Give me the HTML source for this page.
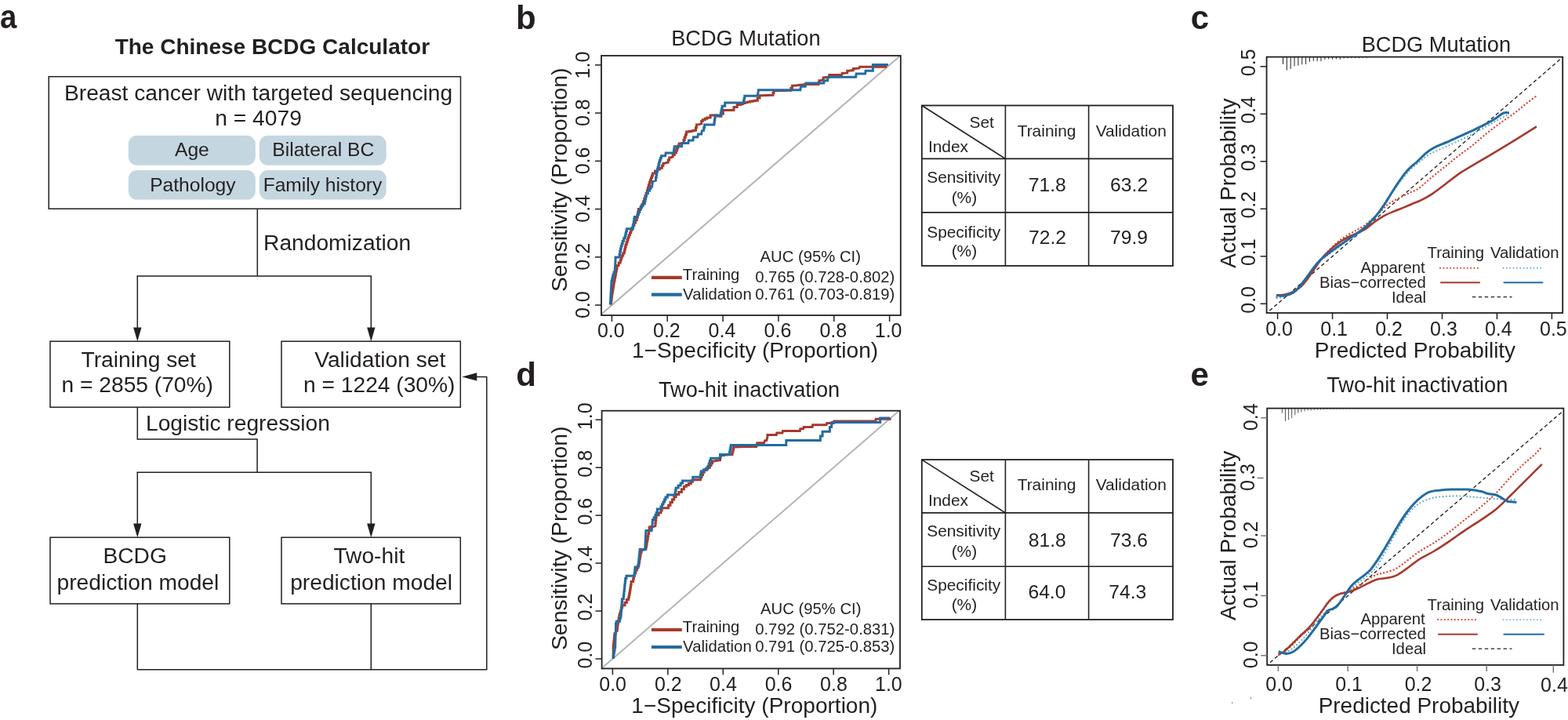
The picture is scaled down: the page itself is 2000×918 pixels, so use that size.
<!DOCTYPE html>
<html><head><meta charset="utf-8"><title>The Chinese BCDG Calculator</title>
<style>html,body{margin:0;padding:0;background:#fff;overflow:hidden;}svg{display:block;}text{font-family:"Liberation Sans", Arial, Helvetica, sans-serif;}</style>
</head><body>
<svg width="2000" height="918" viewBox="0 0 2000 918">
<rect width="2000" height="918" fill="#fff"/>
<text transform="translate(1.20,36.20) scale(0.915,1.0)" x="-1.26" y="0" font-size="42" font-weight="bold" fill="#231f20">a</text>
<text transform="translate(146.90,68.70) scale(1,1.0)" x="-0.28" y="0" font-size="28" font-weight="bold" fill="#231f20">The Chinese BCDG Calculator</text>
<rect x="62.20" y="97.70" width="525.30" height="168.50" rx="0" fill="none" stroke="#231f20" stroke-width="1.5"/>
<text transform="translate(84.20,127.80) scale(1,1.0)" x="-2.26" y="0" font-size="28.2" fill="#231f20">Breast cancer with targeted sequencing</text>
<text transform="translate(329.85,160.40) scale(1,1.0)" x="-55.55" y="0" font-size="28.2" fill="#231f20">n = 4079</text>
<rect x="163.80" y="172.70" width="162.00" height="38.00" rx="11" fill="#c4d6e0"/>
<rect x="330.80" y="172.70" width="161.90" height="38.00" rx="11" fill="#c4d6e0"/>
<rect x="163.80" y="217.00" width="162.00" height="37.60" rx="11" fill="#c4d6e0"/>
<rect x="330.80" y="217.00" width="161.90" height="37.60" rx="11" fill="#c4d6e0"/>
<text transform="translate(244.35,198.80) scale(1,1.0)" x="-21.34" y="0" font-size="24.6" fill="#231f20">Age</text>
<text transform="translate(412.80,198.80) scale(1,1.0)" x="-65.50" y="0" font-size="24.6" fill="#231f20">Bilateral BC</text>
<text transform="translate(246.90,243.80) scale(1,1.0)" x="-55.72" y="0" font-size="24.6" fill="#231f20">Pathology</text>
<text transform="translate(412.50,243.80) scale(1,1.0)" x="-76.88" y="0" font-size="24.6" fill="#231f20">Family history</text>
<line x1="328.30" y1="266.20" x2="328.30" y2="351.90" stroke="#231f20" stroke-width="1.5" stroke-linecap="butt"/>
<text transform="translate(338.30,319.30) scale(1,1.0)" x="-2.26" y="0" font-size="28.2" fill="#231f20">Randomization</text>
<line x1="175.30" y1="351.90" x2="473.30" y2="351.90" stroke="#231f20" stroke-width="1.5" stroke-linecap="square"/>
<line x1="175.30" y1="351.90" x2="175.30" y2="418.20" stroke="#231f20" stroke-width="1.5" stroke-linecap="butt"/>
<polygon points="170.10,417.60 180.50,417.60 175.30,435.20" fill="#231f20"/>
<line x1="473.30" y1="351.90" x2="473.30" y2="418.20" stroke="#231f20" stroke-width="1.5" stroke-linecap="butt"/>
<polygon points="468.10,417.60 478.50,417.60 473.30,435.20" fill="#231f20"/>
<rect x="64.00" y="435.20" width="228.80" height="84.00" rx="0" fill="none" stroke="#231f20" stroke-width="1.5"/>
<rect x="359.00" y="435.20" width="228.30" height="84.00" rx="0" fill="none" stroke="#231f20" stroke-width="1.5"/>
<text transform="translate(104.10,467.70) scale(1,1.0)" x="-0.56" y="0" font-size="28.2" fill="#231f20">Training set</text>
<text transform="translate(80.30,500.30) scale(1,1.0)" x="-1.83" y="0" font-size="28.2" fill="#231f20">n = 2855 (70%)</text>
<text transform="translate(401.30,467.70) scale(1,1.0)" x="-0.14" y="0" font-size="28.2" fill="#231f20">Validation set</text>
<text transform="translate(388.80,500.30) scale(1,1.0)" x="-1.83" y="0" font-size="28.2" fill="#231f20">n = 1224 (30%)</text>
<polyline points="175.30,519.20 175.30,559.90 328.10,559.90 328.10,602.20" fill="none" stroke="#231f20" stroke-width="1.5" stroke-linecap="butt" stroke-linejoin="miter"/>
<text transform="translate(188.20,548.50) scale(1,1.0)" x="-2.26" y="0" font-size="28.2" fill="#231f20">Logistic regression</text>
<line x1="175.30" y1="602.20" x2="473.30" y2="602.20" stroke="#231f20" stroke-width="1.5" stroke-linecap="square"/>
<line x1="175.30" y1="602.20" x2="175.30" y2="668.20" stroke="#231f20" stroke-width="1.5" stroke-linecap="butt"/>
<polygon points="170.10,667.60 180.50,667.60 175.30,685.20" fill="#231f20"/>
<line x1="473.30" y1="602.20" x2="473.30" y2="668.20" stroke="#231f20" stroke-width="1.5" stroke-linecap="butt"/>
<polygon points="468.10,667.60 478.50,667.60 473.30,685.20" fill="#231f20"/>
<rect x="64.00" y="685.20" width="228.80" height="84.60" rx="0" fill="none" stroke="#231f20" stroke-width="1.5"/>
<rect x="359.00" y="685.20" width="228.30" height="84.60" rx="0" fill="none" stroke="#231f20" stroke-width="1.5"/>
<text transform="translate(172.20,718.30) scale(1,1.0)" x="-40.82" y="0" font-size="28.2" fill="#231f20">BCDG</text>
<text transform="translate(74.30,751.90) scale(1,1.0)" x="-1.83" y="0" font-size="28.2" fill="#231f20">prediction model</text>
<text transform="translate(471.00,718.30) scale(1,1.0)" x="-45.61" y="0" font-size="28.2" fill="#231f20">Two-hit</text>
<text transform="translate(372.00,751.90) scale(1,1.0)" x="-1.83" y="0" font-size="28.2" fill="#231f20">prediction model</text>
<line x1="175.30" y1="769.80" x2="175.30" y2="853.80" stroke="#231f20" stroke-width="1.5" stroke-linecap="butt"/>
<line x1="473.30" y1="769.80" x2="473.30" y2="853.80" stroke="#231f20" stroke-width="1.5" stroke-linecap="butt"/>
<polyline points="175.30,853.80 620.80,853.80 620.80,480.40 608.00,480.40" fill="none" stroke="#231f20" stroke-width="1.5" stroke-linecap="butt" stroke-linejoin="round"/>
<polygon points="608.30,475.30 608.30,485.50 589.20,480.40" fill="#231f20"/>
<clipPath id="cb"><rect x="767" y="71" width="381.79999999999995" height="331"/></clipPath>
<g clip-path="url(#cb)">
<line x1="744.98" y1="419.61" x2="1170.02" y2="52.29" stroke="#b4b4b4" stroke-width="2.0" stroke-linecap="butt"/>
<polyline points="779.30,388.50 779.30,385.20 779.72,385.20 779.72,381.90 780.15,381.90 780.15,378.60 780.58,378.60 780.58,375.30 781.00,375.30 781.00,372.27 781.50,372.27 781.50,369.25 782.00,369.25 782.00,366.23 782.50,366.23 782.50,363.20 783.00,363.20 783.00,359.96 783.62,359.96 783.62,356.72 784.24,356.72 784.24,353.48 784.86,353.48 784.86,350.24 785.48,350.24 785.48,347.00 786.10,347.00 787.10,342.00 787.10,338.50 789.15,338.50 789.15,335.00 791.20,335.00 791.20,332.00 792.20,332.00 792.20,329.00 793.20,329.00 793.20,325.95 794.70,325.95 794.70,322.90 796.20,322.90 796.20,320.20 796.87,320.20 796.87,317.50 797.53,317.50 797.53,314.80 798.20,314.80 798.20,311.77 799.20,311.77 799.20,308.75 800.20,308.75 800.20,305.73 801.20,305.73 801.20,302.70 802.20,302.70 802.20,299.68 803.48,299.68 803.48,296.65 804.75,296.65 804.75,293.62 806.02,293.62 806.02,290.60 807.30,290.60 807.30,287.27 808.97,287.27 808.97,283.93 810.63,283.93 810.63,280.60 812.30,280.60 812.30,277.23 812.97,277.23 812.97,273.87 813.63,273.87 813.63,270.50 814.30,270.50 814.30,266.50 817.40,266.50 817.40,263.45 818.90,263.45 818.90,260.40 820.40,260.40 820.40,256.88 821.65,256.88 821.65,253.35 822.90,253.35 822.90,249.82 824.15,249.82 824.15,246.30 825.40,246.30 825.40,242.78 826.40,242.78 826.40,239.25 827.40,239.25 827.40,235.72 828.40,235.72 828.40,232.20 829.40,232.20 829.40,229.50 830.43,229.50 830.43,226.80 831.47,226.80 831.47,224.10 832.50,224.10 832.50,221.05 835.50,221.05 835.50,218.00 838.50,218.00 838.50,216.10 841.45,216.10 841.45,214.20 844.40,214.20 844.40,211.20 845.90,211.20 845.90,208.20 847.40,208.20 852.20,207.00 852.20,204.00 853.70,204.00 853.70,201.00 855.20,201.00 858.20,199.90 858.20,197.45 860.30,197.45 860.30,195.00 862.40,195.00 862.40,192.00 863.55,192.00 863.55,189.00 864.70,189.00 864.70,186.00 866.20,186.00 866.20,183.00 867.70,183.00 872.00,181.90 872.00,178.50 873.17,178.50 873.17,175.10 874.33,175.10 874.33,171.70 875.50,171.70 875.50,168.10 879.10,168.10 879.10,167.50 881.90,167.50 881.90,166.90 884.70,166.90 884.70,166.30 887.50,166.30 887.50,162.70 888.40,162.70 888.40,159.10 889.30,159.10 894.70,157.90 894.70,154.30 896.50,154.30 896.50,152.80 899.20,152.80 899.20,151.30 901.90,151.30 901.90,150.10 906.10,150.10 906.10,147.10 909.10,147.10 913.90,147.10 913.90,147.70 916.90,147.70 916.90,148.30 919.90,148.30 919.90,145.30 922.30,145.30 922.30,140.60 924.70,140.60 936.00,140.60 936.00,136.40 940.20,136.40 940.20,133.40 945.00,133.40 945.00,132.45 947.50,132.45 947.50,131.50 950.00,131.50 950.00,130.70 953.25,130.70 953.25,129.90 956.50,129.90 956.50,129.37 959.77,129.37 959.77,128.83 963.03,128.83 963.03,128.30 966.30,128.30 966.30,125.00 969.05,125.00 969.05,121.70 971.80,121.70 986.00,121.20 986.00,118.50 987.00,118.50 987.00,115.80 988.00,115.80 1008.80,115.20 1008.80,112.20 1010.40,112.20 1010.40,109.20 1012.00,109.20 1024.00,108.10 1026.00,107.60 1044.00,107.60 1044.00,105.15 1044.95,105.15 1044.95,102.70 1045.90,102.70 1049.70,102.10 1050.20,98.90 1057.30,98.30 1057.80,95.60 1073.60,95.60 1074.20,93.40 1080.70,92.90 1080.70,90.20 1082.90,90.20 1088.30,89.60 1088.30,87.40 1090.50,87.40 1096.00,86.90 1096.50,85.30 1129.70,85.30 1129.70,82.50 1133.00,82.50" fill="none" stroke="#a53a2e" stroke-width="3.0" stroke-linecap="butt" stroke-linejoin="miter"/>
<polyline points="778.50,388.50 778.50,385.47 778.67,385.47 778.67,382.43 778.83,382.43 778.83,379.40 779.00,379.40 779.00,376.37 779.17,376.37 779.17,373.33 779.33,373.33 779.33,370.30 779.50,370.30 779.50,367.27 779.67,367.27 779.67,364.23 779.83,364.23 779.83,361.20 780.00,361.20 780.00,358.50 780.67,358.50 780.67,355.80 781.33,355.80 781.33,353.10 782.00,353.10 782.00,350.05 783.05,350.05 783.05,347.00 784.10,347.00 785.10,331.00 785.10,328.00 787.10,328.00 790.10,328.00 790.10,324.30 790.80,324.30 790.80,320.60 791.50,320.60 791.50,316.90 792.20,316.90 792.20,313.85 793.20,313.85 793.20,310.80 794.20,310.80 794.20,307.30 795.70,307.30 795.70,303.80 797.20,303.80 797.20,300.77 797.95,300.77 797.95,297.75 798.70,297.75 798.70,294.73 799.45,294.73 799.45,291.70 800.20,291.70 807.30,291.70 807.30,288.68 807.80,288.68 807.80,285.65 808.30,285.65 808.30,282.62 808.80,282.62 808.80,279.60 809.30,279.60 809.30,276.50 813.30,276.50 813.30,273.48 814.57,273.48 814.57,270.45 815.85,270.45 815.85,267.42 817.12,267.42 817.12,264.40 818.40,264.40 818.40,261.90 820.40,261.90 820.40,259.40 822.40,259.40 822.40,256.37 823.07,256.37 823.07,253.33 823.73,253.33 823.73,250.30 824.40,250.30 824.40,246.80 826.45,246.80 826.45,243.30 828.50,243.30 828.50,240.75 830.00,240.75 830.00,238.20 831.50,238.20 832.50,231.20 836.50,230.20 836.50,226.47 837.13,226.47 837.13,222.73 837.77,222.73 837.77,219.00 838.40,219.00 838.40,216.00 839.15,216.00 839.15,213.00 839.90,213.00 839.90,210.00 840.65,210.00 840.65,207.00 841.40,207.00 841.40,204.23 842.40,204.23 842.40,201.47 843.40,201.47 843.40,198.70 844.40,198.70 848.60,198.70 849.20,195.00 859.40,195.00 859.40,192.23 859.80,192.23 859.80,189.47 860.20,189.47 860.20,186.70 860.60,186.70 869.50,186.70 870.10,182.50 877.90,182.50 878.50,178.90 883.90,178.90 884.50,174.70 889.90,174.70 890.50,171.10 894.70,171.10 895.30,166.90 897.70,166.30 897.70,162.70 898.60,162.70 898.60,159.10 899.50,159.10 910.90,159.10 910.90,156.10 911.35,156.10 911.35,153.10 911.80,153.10 911.80,150.10 912.25,150.10 912.25,147.10 912.70,147.10 919.30,147.10 919.30,144.33 919.90,144.33 919.90,141.57 920.50,141.57 920.50,138.80 921.10,138.80 921.10,135.20 924.70,135.20 924.70,131.00 929.40,131.00 948.60,131.00 948.60,128.10 949.20,128.10 949.20,125.20 949.80,125.20 949.80,122.30 950.40,122.30 966.30,122.30 967.40,114.70 1020.80,114.70 1021.40,110.30 1027.30,110.30 1027.90,106.00 1050.80,106.00 1051.30,102.70 1055.70,102.70 1056.20,98.30 1091.60,98.30 1092.20,94.00 1103.60,94.00 1104.10,90.20 1113.40,90.20 1113.40,82.50 1133.00,82.50" fill="none" stroke="#246ba0" stroke-width="3.0" stroke-linecap="butt" stroke-linejoin="miter"/>
</g>
<rect x="767.00" y="71.00" width="381.80" height="331.00" rx="0" fill="none" stroke="#231f20" stroke-width="1.8"/>
<line x1="780.40" y1="402.00" x2="780.40" y2="410.00" stroke="#231f20" stroke-width="1.5" stroke-linecap="butt"/>
<text transform="translate(779.40,429.70) scale(1,1.0)" x="-17.44" y="0" font-size="25" fill="#231f20">0.0</text>
<line x1="759.00" y1="389.00" x2="767.00" y2="389.00" stroke="#231f20" stroke-width="1.5" stroke-linecap="butt"/>
<text transform="translate(751.70,388.60) rotate(-90) scale(1,1.0)" x="-17.44" y="0" font-size="25" fill="#231f20">0.0</text>
<line x1="851.24" y1="402.00" x2="851.24" y2="410.00" stroke="#231f20" stroke-width="1.5" stroke-linecap="butt"/>
<text transform="translate(850.24,429.70) scale(1,1.0)" x="-17.25" y="0" font-size="25" fill="#231f20">0.2</text>
<line x1="759.00" y1="327.78" x2="767.00" y2="327.78" stroke="#231f20" stroke-width="1.5" stroke-linecap="butt"/>
<text transform="translate(751.70,327.38) rotate(-90) scale(1,1.0)" x="-17.25" y="0" font-size="25" fill="#231f20">0.2</text>
<line x1="922.08" y1="402.00" x2="922.08" y2="410.00" stroke="#231f20" stroke-width="1.5" stroke-linecap="butt"/>
<text transform="translate(921.08,429.70) scale(1,1.0)" x="-17.50" y="0" font-size="25" fill="#231f20">0.4</text>
<line x1="759.00" y1="266.56" x2="767.00" y2="266.56" stroke="#231f20" stroke-width="1.5" stroke-linecap="butt"/>
<text transform="translate(751.70,266.16) rotate(-90) scale(1,1.0)" x="-17.50" y="0" font-size="25" fill="#231f20">0.4</text>
<line x1="992.92" y1="402.00" x2="992.92" y2="410.00" stroke="#231f20" stroke-width="1.5" stroke-linecap="butt"/>
<text transform="translate(991.92,429.70) scale(1,1.0)" x="-17.38" y="0" font-size="25" fill="#231f20">0.6</text>
<line x1="759.00" y1="205.34" x2="767.00" y2="205.34" stroke="#231f20" stroke-width="1.5" stroke-linecap="butt"/>
<text transform="translate(751.70,204.94) rotate(-90) scale(1,1.0)" x="-17.38" y="0" font-size="25" fill="#231f20">0.6</text>
<line x1="1063.76" y1="402.00" x2="1063.76" y2="410.00" stroke="#231f20" stroke-width="1.5" stroke-linecap="butt"/>
<text transform="translate(1062.76,429.70) scale(1,1.0)" x="-17.38" y="0" font-size="25" fill="#231f20">0.8</text>
<line x1="759.00" y1="144.12" x2="767.00" y2="144.12" stroke="#231f20" stroke-width="1.5" stroke-linecap="butt"/>
<text transform="translate(751.70,143.72) rotate(-90) scale(1,1.0)" x="-17.38" y="0" font-size="25" fill="#231f20">0.8</text>
<line x1="1134.60" y1="402.00" x2="1134.60" y2="410.00" stroke="#231f20" stroke-width="1.5" stroke-linecap="butt"/>
<text transform="translate(1133.60,429.70) scale(1,1.0)" x="-17.88" y="0" font-size="25" fill="#231f20">1.0</text>
<line x1="759.00" y1="82.90" x2="767.00" y2="82.90" stroke="#231f20" stroke-width="1.5" stroke-linecap="butt"/>
<text transform="translate(751.70,82.50) rotate(-90) scale(1,1.0)" x="-17.88" y="0" font-size="25" fill="#231f20">1.0</text>
<text transform="translate(951.60,58.00) scale(1,1.0)" x="-95.40" y="0" font-size="27.2" fill="#231f20">BCDG Mutation</text>
<text transform="translate(808.10,455.90) scale(1,1.0)" x="-2.10" y="0" font-size="28.05" fill="#231f20">1−Specificity (Proportion)</text>
<text transform="translate(722.90,229.50) rotate(-90) scale(1,1.0)" x="-142.57" y="0" font-size="28.4" fill="#231f20">Sensitivity (Proportion)</text>
<text transform="translate(969.50,333.80) scale(1,1.0)" x="-0.00" y="0" font-size="20.3" fill="#231f20">AUC (95% CI)</text>
<line x1="831.00" y1="353.90" x2="869.80" y2="353.90" stroke="#a53a2e" stroke-width="4.2" stroke-linecap="butt"/>
<line x1="831.00" y1="375.70" x2="869.80" y2="375.70" stroke="#246ba0" stroke-width="4.2" stroke-linecap="butt"/>
<text transform="translate(871.20,356.60) scale(1,1.0)" x="-0.41" y="0" font-size="20.3" fill="#231f20">Training</text>
<text transform="translate(871.20,382.20) scale(1,1.0)" x="-0.10" y="0" font-size="20.3" fill="#231f20">Validation</text>
<text transform="translate(964.00,359.60) scale(1,1.0)" x="-0.81" y="0" font-size="20.3" fill="#231f20">0.765 (0.728-0.802)</text>
<text transform="translate(964.00,382.40) scale(1,1.0)" x="-0.81" y="0" font-size="20.3" fill="#231f20">0.761 (0.703-0.819)</text>
<text transform="translate(660.70,36.60) scale(1,1.0)" x="-2.73" y="0" font-size="42" font-weight="bold" fill="#231f20">b</text>
<clipPath id="cd"><rect x="767.6" y="523.7" width="380.4" height="328.69999999999993"/></clipPath>
<g clip-path="url(#cd)">
<line x1="746.18" y1="870.48" x2="1168.82" y2="504.72" stroke="#b4b4b4" stroke-width="2.0" stroke-linecap="butt"/>
<polyline points="782.20,840.00 782.20,827.30 782.20,824.04 782.54,824.04 782.54,820.78 782.88,820.78 782.88,817.52 783.22,817.52 783.22,814.26 783.56,814.26 783.56,811.00 783.90,811.00 783.90,807.75 785.50,807.75 785.50,804.50 787.10,804.50 788.00,798.00 788.00,794.73 788.60,794.73 788.60,791.45 789.20,791.45 789.20,788.17 789.80,788.17 789.80,784.90 790.40,784.90 790.40,782.45 791.20,782.45 791.20,780.00 792.00,780.00 792.00,777.27 792.83,777.27 792.83,774.53 793.67,774.53 793.67,771.80 794.50,771.80 797.00,771.80 797.00,768.15 799.40,768.15 799.40,764.50 801.80,764.50 801.80,761.50 802.37,761.50 802.37,758.50 802.93,758.50 802.93,755.50 803.50,755.50 803.50,752.23 804.03,752.23 804.03,748.97 804.57,748.97 804.57,745.70 805.10,745.70 805.10,741.60 807.60,741.60 807.60,737.95 808.40,737.95 808.40,734.30 809.20,734.30 809.20,730.65 810.80,730.65 810.80,727.00 812.40,727.00 812.40,724.10 813.65,724.10 813.65,721.20 814.90,721.20 814.90,718.26 815.38,718.26 815.38,715.32 815.86,715.32 815.86,712.38 816.34,712.38 816.34,709.44 816.82,709.44 816.82,706.50 817.30,706.50 817.30,704.05 818.15,704.05 818.15,701.60 819.00,701.60 823.90,700.50 823.90,697.20 824.50,697.20 824.50,693.90 825.10,693.90 825.10,690.60 825.70,690.60 825.70,687.30 826.30,687.30 826.30,683.72 826.90,683.72 826.90,680.15 827.50,680.15 827.50,676.58 828.10,676.58 828.10,673.00 828.70,673.00 828.70,671.80 832.30,671.80 835.90,670.60 835.90,667.00 836.30,667.00 836.30,663.40 836.70,663.40 836.70,659.80 837.10,659.80 837.10,656.80 840.05,656.80 840.05,653.80 843.00,653.80 843.00,650.80 844.20,650.80 844.20,647.80 845.40,647.80 852.60,647.80 852.60,644.20 855.00,644.20 855.00,640.60 857.40,640.60 857.40,637.00 859.80,637.00 859.80,633.40 862.20,633.40 862.20,630.40 865.80,630.40 865.80,627.40 869.40,627.40 869.40,623.80 872.40,623.80 872.40,620.20 875.40,620.20 875.40,618.40 878.40,618.40 878.40,616.60 881.40,616.60 881.40,614.20 883.20,614.20 883.20,611.80 885.00,611.80 893.40,611.80 893.40,608.63 895.00,608.63 895.00,605.47 896.60,605.47 896.60,602.30 898.20,602.30 898.20,599.30 901.80,599.30 901.80,596.30 905.40,596.30 905.40,593.50 906.97,593.50 906.97,590.70 908.53,590.70 908.53,587.90 910.10,587.90 918.50,586.70 918.50,583.70 919.10,583.70 919.10,580.70 919.70,580.70 919.70,580.40 923.30,580.40 923.30,580.10 926.90,580.10 926.90,579.80 930.50,579.80 930.50,579.50 934.10,579.50 934.10,576.30 934.90,576.30 934.90,573.10 935.70,573.10 935.70,569.90 936.50,569.90 950.00,569.60 964.70,569.60 965.80,564.70 974.50,564.70 975.60,561.90 977.80,561.40 978.90,557.00 978.90,554.60 981.00,554.60 990.30,554.60 990.80,552.10 997.90,552.10 998.50,549.40 1020.30,549.40 1020.80,546.70 1024.60,546.70 1025.20,544.50 1036.10,544.50 1036.60,541.80 1054.00,541.80 1054.60,539.60 1063.30,539.60 1063.80,536.90 1116.70,536.90 1117.20,534.20 1135.20,534.20 1135.20,533.00" fill="none" stroke="#a53a2e" stroke-width="3.0" stroke-linecap="butt" stroke-linejoin="miter"/>
<polyline points="782.20,840.00 782.20,836.42 782.83,836.42 782.83,832.85 783.45,832.85 783.45,829.28 784.08,829.28 784.08,825.70 784.70,825.70 785.50,798.00 785.50,795.10 786.30,795.10 786.30,792.20 787.10,792.20 790.40,792.20 790.40,789.35 791.20,789.35 791.20,786.50 792.00,786.50 792.00,783.24 792.24,783.24 792.24,779.99 792.49,779.99 792.49,776.73 792.73,776.73 792.73,773.47 792.97,773.47 792.97,770.21 793.21,770.21 793.21,766.96 793.46,766.96 793.46,763.70 793.70,763.70 795.30,763.70 795.30,760.31 795.66,760.31 795.66,756.93 796.01,756.93 796.01,753.54 796.37,753.54 796.37,750.16 796.73,750.16 796.73,746.77 797.09,746.77 797.09,743.39 797.44,743.39 797.44,740.00 797.80,740.00 797.80,737.15 799.00,737.15 799.00,734.30 800.20,734.30 809.20,734.30 810.00,722.90 814.10,722.90 814.10,719.70 814.44,719.70 814.44,716.50 814.79,716.50 814.79,713.30 815.13,713.30 815.13,710.10 815.47,710.10 815.47,706.90 815.81,706.90 815.81,703.70 816.16,703.70 816.16,700.50 816.50,700.50 822.70,700.50 823.90,676.50 831.10,676.50 832.30,665.80 832.30,662.80 834.10,662.80 834.10,659.80 835.90,659.80 835.90,656.80 837.10,656.80 837.10,653.80 838.30,653.80 838.30,649.00 843.00,649.00 843.00,646.00 844.50,646.00 844.50,643.00 846.00,643.00 846.00,640.00 847.50,640.00 847.50,637.00 849.00,637.00 849.00,634.00 851.40,634.00 851.40,631.00 853.80,631.00 861.00,631.00 861.00,628.00 861.60,628.00 861.60,625.00 862.20,625.00 862.20,622.00 865.20,622.00 865.20,619.00 868.20,619.00 868.20,616.00 870.60,616.00 870.60,613.00 873.00,613.00 883.80,613.00 883.80,608.30 885.00,608.30 893.40,608.30 893.40,605.30 894.00,605.30 894.00,602.30 894.60,602.30 894.60,600.70 897.40,600.70 897.40,599.10 900.20,599.10 900.20,597.50 903.00,597.50 903.00,594.20 904.17,594.20 904.17,590.90 905.35,590.90 905.35,587.60 906.53,587.60 906.53,584.30 907.70,584.30 918.50,584.30 918.50,579.50 919.70,579.50 930.50,579.50 930.50,576.50 931.10,576.50 931.10,573.50 931.70,573.50 931.70,570.50 932.30,570.50 932.30,567.50 932.90,567.50 1002.80,567.40 1002.80,561.40 1046.40,561.40 1046.40,556.00 1049.10,556.00 1049.10,550.30 1058.40,550.30 1058.40,544.50 1060.60,544.50 1061.10,538.50 1122.70,538.50 1122.70,532.90 1135.20,532.90" fill="none" stroke="#246ba0" stroke-width="3.0" stroke-linecap="butt" stroke-linejoin="miter"/>
</g>
<rect x="767.60" y="523.70" width="380.40" height="328.70" rx="0" fill="none" stroke="#231f20" stroke-width="1.8"/>
<line x1="781.40" y1="852.40" x2="781.40" y2="860.40" stroke="#231f20" stroke-width="1.5" stroke-linecap="butt"/>
<text transform="translate(781.70,880.50) scale(1,1.0)" x="-17.44" y="0" font-size="25" fill="#231f20">0.0</text>
<line x1="759.60" y1="840.00" x2="767.60" y2="840.00" stroke="#231f20" stroke-width="1.5" stroke-linecap="butt"/>
<text transform="translate(754.60,835.10) rotate(-90) scale(1,1.0)" x="-17.44" y="0" font-size="25" fill="#231f20">0.0</text>
<line x1="851.84" y1="852.40" x2="851.84" y2="860.40" stroke="#231f20" stroke-width="1.5" stroke-linecap="butt"/>
<text transform="translate(852.14,880.50) scale(1,1.0)" x="-17.25" y="0" font-size="25" fill="#231f20">0.2</text>
<line x1="759.60" y1="779.04" x2="767.60" y2="779.04" stroke="#231f20" stroke-width="1.5" stroke-linecap="butt"/>
<text transform="translate(754.60,774.14) rotate(-90) scale(1,1.0)" x="-17.25" y="0" font-size="25" fill="#231f20">0.2</text>
<line x1="922.28" y1="852.40" x2="922.28" y2="860.40" stroke="#231f20" stroke-width="1.5" stroke-linecap="butt"/>
<text transform="translate(922.58,880.50) scale(1,1.0)" x="-17.50" y="0" font-size="25" fill="#231f20">0.4</text>
<line x1="759.60" y1="718.08" x2="767.60" y2="718.08" stroke="#231f20" stroke-width="1.5" stroke-linecap="butt"/>
<text transform="translate(754.60,713.18) rotate(-90) scale(1,1.0)" x="-17.50" y="0" font-size="25" fill="#231f20">0.4</text>
<line x1="992.72" y1="852.40" x2="992.72" y2="860.40" stroke="#231f20" stroke-width="1.5" stroke-linecap="butt"/>
<text transform="translate(993.02,880.50) scale(1,1.0)" x="-17.38" y="0" font-size="25" fill="#231f20">0.6</text>
<line x1="759.60" y1="657.12" x2="767.60" y2="657.12" stroke="#231f20" stroke-width="1.5" stroke-linecap="butt"/>
<text transform="translate(754.60,652.22) rotate(-90) scale(1,1.0)" x="-17.38" y="0" font-size="25" fill="#231f20">0.6</text>
<line x1="1063.16" y1="852.40" x2="1063.16" y2="860.40" stroke="#231f20" stroke-width="1.5" stroke-linecap="butt"/>
<text transform="translate(1063.46,880.50) scale(1,1.0)" x="-17.38" y="0" font-size="25" fill="#231f20">0.8</text>
<line x1="759.60" y1="596.16" x2="767.60" y2="596.16" stroke="#231f20" stroke-width="1.5" stroke-linecap="butt"/>
<text transform="translate(754.60,591.26) rotate(-90) scale(1,1.0)" x="-17.38" y="0" font-size="25" fill="#231f20">0.8</text>
<line x1="1133.60" y1="852.40" x2="1133.60" y2="860.40" stroke="#231f20" stroke-width="1.5" stroke-linecap="butt"/>
<text transform="translate(1133.90,880.50) scale(1,1.0)" x="-17.88" y="0" font-size="25" fill="#231f20">1.0</text>
<line x1="759.60" y1="535.20" x2="767.60" y2="535.20" stroke="#231f20" stroke-width="1.5" stroke-linecap="butt"/>
<text transform="translate(754.60,530.30) rotate(-90) scale(1,1.0)" x="-17.88" y="0" font-size="25" fill="#231f20">1.0</text>
<text transform="translate(955.00,506.20) scale(1,1.0)" x="-115.06" y="0" font-size="27.2" fill="#231f20">Two-hit inactivation</text>
<text transform="translate(807.40,908.80) scale(1,1.0)" x="-2.10" y="0" font-size="28.05" fill="#231f20">1−Specificity (Proportion)</text>
<text transform="translate(722.90,686.50) rotate(-90) scale(1,1.0)" x="-142.57" y="0" font-size="28.4" fill="#231f20">Sensitivity (Proportion)</text>
<text transform="translate(970.00,783.00) scale(1,1.0)" x="-0.00" y="0" font-size="20.3" fill="#231f20">AUC (95% CI)</text>
<line x1="831.00" y1="803.00" x2="869.80" y2="803.00" stroke="#a53a2e" stroke-width="4.2" stroke-linecap="butt"/>
<line x1="831.00" y1="825.00" x2="869.80" y2="825.00" stroke="#246ba0" stroke-width="4.2" stroke-linecap="butt"/>
<text transform="translate(871.20,806.00) scale(1,1.0)" x="-0.41" y="0" font-size="20.3" fill="#231f20">Training</text>
<text transform="translate(871.20,831.00) scale(1,1.0)" x="-0.10" y="0" font-size="20.3" fill="#231f20">Validation</text>
<text transform="translate(964.00,809.00) scale(1,1.0)" x="-0.81" y="0" font-size="20.3" fill="#231f20">0.792 (0.752-0.831)</text>
<text transform="translate(964.00,831.00) scale(1,1.0)" x="-0.81" y="0" font-size="20.3" fill="#231f20">0.791 (0.725-0.853)</text>
<text transform="translate(660.00,491.50) scale(1,1.0)" x="-1.68" y="0" font-size="42" font-weight="bold" fill="#231f20">d</text>
<rect x="1175.80" y="134.50" width="320.20" height="204.40" rx="0" fill="none" stroke="#231f20" stroke-width="1.8"/>
<line x1="1282.40" y1="134.50" x2="1282.40" y2="338.90" stroke="#231f20" stroke-width="1.6" stroke-linecap="butt"/>
<line x1="1388.60" y1="134.50" x2="1388.60" y2="338.90" stroke="#231f20" stroke-width="1.6" stroke-linecap="butt"/>
<line x1="1175.80" y1="202.40" x2="1496.00" y2="202.40" stroke="#231f20" stroke-width="1.6" stroke-linecap="butt"/>
<line x1="1175.80" y1="270.90" x2="1496.00" y2="270.90" stroke="#231f20" stroke-width="1.6" stroke-linecap="butt"/>
<line x1="1175.80" y1="134.50" x2="1282.40" y2="202.40" stroke="#231f20" stroke-width="1.6" stroke-linecap="butt"/>
<text transform="translate(1237.40,162.60) scale(1,1.0)" x="-0.94" y="0" font-size="20.9" fill="#231f20">Set</text>
<text transform="translate(1185.80,194.30) scale(1,1.0)" x="-1.88" y="0" font-size="20.9" fill="#231f20">Index</text>
<text transform="translate(1334.55,173.70) scale(1,1.0)" x="-36.89" y="0" font-size="20.9" fill="#231f20">Training</text>
<text transform="translate(1442.10,173.70) scale(1,1.0)" x="-44.46" y="0" font-size="20.9" fill="#231f20">Validation</text>
<text transform="translate(1229.70,232.80) scale(1,1.0)" x="-47.50" y="0" font-size="20.9" fill="#231f20">Sensitivity</text>
<text transform="translate(1229.85,258.70) scale(1,1.0)" x="-16.20" y="0" font-size="20.9" fill="#231f20">(%)</text>
<text transform="translate(1229.70,302.50) scale(1,1.0)" x="-47.50" y="0" font-size="20.9" fill="#231f20">Specificity</text>
<text transform="translate(1229.85,327.30) scale(1,1.0)" x="-16.20" y="0" font-size="20.9" fill="#231f20">(%)</text>
<text transform="translate(1335.90,243.90) scale(1,1.0)" x="-24.14" y="0" font-size="24.7" fill="#231f20">71.8</text>
<text transform="translate(1440.10,243.90) scale(1,1.0)" x="-24.02" y="0" font-size="24.7" fill="#231f20">63.2</text>
<text transform="translate(1336.00,311.00) scale(1,1.0)" x="-24.02" y="0" font-size="24.7" fill="#231f20">72.2</text>
<text transform="translate(1440.10,311.00) scale(1,1.0)" x="-24.08" y="0" font-size="24.7" fill="#231f20">79.9</text>
<rect x="1175.80" y="586.10" width="320.20" height="203.90" rx="0" fill="none" stroke="#231f20" stroke-width="1.8"/>
<line x1="1282.40" y1="586.10" x2="1282.40" y2="790.00" stroke="#231f20" stroke-width="1.6" stroke-linecap="butt"/>
<line x1="1388.60" y1="586.10" x2="1388.60" y2="790.00" stroke="#231f20" stroke-width="1.6" stroke-linecap="butt"/>
<line x1="1175.80" y1="653.90" x2="1496.00" y2="653.90" stroke="#231f20" stroke-width="1.6" stroke-linecap="butt"/>
<line x1="1175.80" y1="722.20" x2="1496.00" y2="722.20" stroke="#231f20" stroke-width="1.6" stroke-linecap="butt"/>
<line x1="1175.80" y1="586.10" x2="1282.40" y2="653.90" stroke="#231f20" stroke-width="1.6" stroke-linecap="butt"/>
<text transform="translate(1237.40,613.60) scale(1,1.0)" x="-0.94" y="0" font-size="20.9" fill="#231f20">Set</text>
<text transform="translate(1185.80,644.90) scale(1,1.0)" x="-1.88" y="0" font-size="20.9" fill="#231f20">Index</text>
<text transform="translate(1334.55,625.00) scale(1,1.0)" x="-36.89" y="0" font-size="20.9" fill="#231f20">Training</text>
<text transform="translate(1442.10,625.00) scale(1,1.0)" x="-44.46" y="0" font-size="20.9" fill="#231f20">Validation</text>
<text transform="translate(1229.70,683.80) scale(1,1.0)" x="-47.50" y="0" font-size="20.9" fill="#231f20">Sensitivity</text>
<text transform="translate(1229.85,709.70) scale(1,1.0)" x="-16.20" y="0" font-size="20.9" fill="#231f20">(%)</text>
<text transform="translate(1229.70,753.10) scale(1,1.0)" x="-47.50" y="0" font-size="20.9" fill="#231f20">Specificity</text>
<text transform="translate(1229.85,778.30) scale(1,1.0)" x="-16.20" y="0" font-size="20.9" fill="#231f20">(%)</text>
<text transform="translate(1335.80,696.60) scale(1,1.0)" x="-24.08" y="0" font-size="24.7" fill="#231f20">81.8</text>
<text transform="translate(1440.10,696.60) scale(1,1.0)" x="-24.14" y="0" font-size="24.7" fill="#231f20">73.6</text>
<text transform="translate(1335.60,763.40) scale(1,1.0)" x="-24.21" y="0" font-size="24.7" fill="#231f20">64.0</text>
<text transform="translate(1438.30,763.40) scale(1,1.0)" x="-24.14" y="0" font-size="24.7" fill="#231f20">74.3</text>
<clipPath id="cc"><rect x="1615.6" y="72.6" width="377.60000000000014" height="326.4"/></clipPath>
<g clip-path="url(#cc)">
<line x1="1559.64" y1="447.80" x2="2189.28" y2="-96.70" stroke="#231f20" stroke-width="1.35" stroke-linecap="round" stroke-dasharray="3.5,4.45"/>
<path d="M1628.50,379.00 C1630.25,378.58 1635.68,377.50 1639.00,376.50 C1642.32,375.50 1644.98,374.83 1648.40,373.00 C1651.82,371.17 1656.33,368.33 1659.50,365.50 C1662.67,362.67 1664.77,359.42 1667.40,356.00 C1670.03,352.58 1672.13,349.50 1675.30,345.00 C1678.47,340.50 1682.98,333.42 1686.40,329.00 C1689.82,324.58 1692.23,322.13 1695.80,318.50 C1699.37,314.87 1703.83,310.40 1707.80,307.20 C1711.77,304.00 1715.88,301.58 1719.60,299.30 C1723.32,297.02 1726.83,295.35 1730.10,293.50 C1733.37,291.65 1735.93,290.50 1739.20,288.20 C1742.47,285.90 1746.22,282.63 1749.70,279.70 C1753.18,276.77 1756.83,273.65 1760.10,270.60 C1763.37,267.55 1766.25,263.90 1769.30,261.40 C1772.35,258.90 1775.13,257.45 1778.40,255.60 C1781.67,253.75 1785.42,252.05 1788.90,250.30 C1792.38,248.55 1795.78,246.85 1799.30,245.10 C1802.82,243.35 1805.32,243.15 1810.00,239.80 C1814.68,236.45 1821.58,229.78 1827.40,225.00 C1833.22,220.22 1839.08,215.75 1844.90,211.10 C1850.72,206.45 1856.50,201.60 1862.30,197.10 C1868.10,192.60 1873.90,188.73 1879.70,184.10 C1885.50,179.47 1891.28,173.95 1897.10,169.30 C1902.92,164.65 1908.78,160.42 1914.60,156.20 C1920.42,151.98 1926.77,147.92 1932.00,144.00 C1937.23,140.08 1941.35,136.33 1946.00,132.70 C1950.65,129.07 1957.58,123.95 1959.90,122.20" fill="none" stroke="#dc4530" stroke-width="2.3" stroke-linecap="round" stroke-linejoin="round" stroke-dasharray="0.1,4.25"/>
<path d="M1628.70,380.40 C1629.88,380.08 1633.30,379.18 1635.80,378.50 C1638.30,377.82 1641.07,377.30 1643.70,376.30 C1646.33,375.30 1648.97,374.55 1651.60,372.50 C1654.23,370.45 1656.87,367.08 1659.50,364.00 C1662.13,360.92 1664.77,357.50 1667.40,354.00 C1670.03,350.50 1672.67,346.42 1675.30,343.00 C1677.93,339.58 1680.57,336.17 1683.20,333.50 C1685.83,330.83 1688.30,329.17 1691.10,327.00 C1693.90,324.83 1696.33,323.17 1700.00,320.50 C1703.67,317.83 1708.75,314.08 1713.10,311.00 C1717.45,307.92 1721.75,305.08 1726.10,302.00 C1730.45,298.92 1734.83,296.17 1739.20,292.50 C1743.57,288.83 1748.38,284.75 1752.30,280.00 C1756.22,275.25 1759.65,268.62 1762.70,264.00 C1765.75,259.38 1767.98,256.00 1770.60,252.30 C1773.22,248.60 1776.00,245.07 1778.40,241.80 C1780.80,238.53 1782.82,235.53 1785.00,232.70 C1787.18,229.87 1789.33,227.42 1791.50,224.80 C1793.67,222.18 1795.82,219.28 1798.00,217.00 C1800.18,214.72 1802.20,213.07 1804.60,211.10 C1807.00,209.13 1810.05,207.08 1812.40,205.20 C1814.75,203.32 1816.20,201.58 1818.70,199.80 C1821.20,198.02 1823.03,196.68 1827.40,194.50 C1831.77,192.32 1839.08,189.32 1844.90,186.70 C1850.72,184.08 1856.50,181.57 1862.30,178.80 C1868.10,176.03 1873.90,173.15 1879.70,170.10 C1885.50,167.05 1891.87,163.40 1897.10,160.50 C1902.33,157.60 1906.58,155.17 1911.10,152.70 C1915.62,150.23 1922.02,146.87 1924.20,145.70" fill="none" stroke="#62b6c4" stroke-width="2.2" stroke-linecap="round" stroke-linejoin="round" stroke-dasharray="0.1,4.25"/>
<path d="M1627.90,376.40 C1629.75,376.27 1635.58,376.25 1639.00,375.60 C1642.42,374.95 1644.98,374.22 1648.40,372.50 C1651.82,370.78 1656.33,368.07 1659.50,365.30 C1662.67,362.53 1664.77,359.32 1667.40,355.90 C1670.03,352.48 1672.13,349.28 1675.30,344.80 C1678.47,340.32 1682.98,333.22 1686.40,329.00 C1689.82,324.78 1693.53,321.75 1695.80,319.50 C1698.07,317.25 1697.12,317.77 1700.00,315.50 C1702.88,313.23 1708.75,308.60 1713.10,305.90 C1717.45,303.20 1721.75,301.37 1726.10,299.30 C1730.45,297.23 1734.83,296.10 1739.20,293.50 C1743.57,290.90 1747.93,286.75 1752.30,283.70 C1756.67,280.65 1761.05,277.60 1765.40,275.20 C1769.75,272.80 1774.05,271.15 1778.40,269.30 C1782.75,267.45 1787.13,265.90 1791.50,264.10 C1795.87,262.30 1801.18,259.93 1804.60,258.50 C1808.02,257.07 1808.20,257.45 1812.00,255.50 C1815.80,253.55 1821.92,250.43 1827.40,246.80 C1832.88,243.17 1839.08,238.05 1844.90,233.70 C1850.72,229.35 1856.50,224.62 1862.30,220.70 C1868.10,216.78 1873.90,213.68 1879.70,210.20 C1885.50,206.72 1891.28,203.28 1897.10,199.80 C1902.92,196.32 1908.78,192.80 1914.60,189.30 C1920.42,185.80 1926.77,182.00 1932.00,178.80 C1937.23,175.60 1941.35,173.00 1946.00,170.10 C1950.65,167.20 1957.58,162.85 1959.90,161.40" fill="none" stroke="#a53a2e" stroke-width="2.6" stroke-linecap="butt" stroke-linejoin="round"/>
<path d="M1627.90,376.40 C1629.22,376.53 1633.17,377.33 1635.80,377.20 C1638.43,377.07 1641.07,376.52 1643.70,375.60 C1646.33,374.68 1648.97,373.80 1651.60,371.70 C1654.23,369.60 1656.87,366.17 1659.50,363.00 C1662.13,359.83 1664.77,356.27 1667.40,352.70 C1670.03,349.13 1672.67,345.02 1675.30,341.60 C1677.93,338.18 1680.57,334.83 1683.20,332.20 C1685.83,329.57 1688.30,328.00 1691.10,325.80 C1693.90,323.60 1696.33,321.67 1700.00,319.00 C1703.67,316.33 1708.75,312.85 1713.10,309.80 C1717.45,306.75 1721.75,303.75 1726.10,300.70 C1730.45,297.65 1734.83,295.22 1739.20,291.50 C1743.57,287.78 1749.03,281.88 1752.30,278.40 C1755.57,274.92 1756.62,273.43 1758.80,270.60 C1760.98,267.77 1763.22,264.67 1765.40,261.40 C1767.58,258.13 1769.73,254.48 1771.90,251.00 C1774.07,247.52 1776.22,243.88 1778.40,240.50 C1780.58,237.12 1782.82,233.85 1785.00,230.70 C1787.18,227.55 1789.12,224.53 1791.50,221.60 C1793.88,218.67 1796.68,215.62 1799.30,213.10 C1801.92,210.58 1803.97,209.45 1807.20,206.50 C1810.43,203.55 1815.33,198.27 1818.70,195.40 C1822.07,192.53 1824.50,191.03 1827.40,189.30 C1830.30,187.57 1833.18,186.30 1836.10,185.00 C1839.02,183.70 1840.53,183.40 1844.90,181.50 C1849.27,179.60 1856.50,176.22 1862.30,173.60 C1868.10,170.98 1875.05,167.98 1879.70,165.80 C1884.35,163.62 1887.00,162.10 1890.20,160.50 C1893.40,158.90 1896.00,157.78 1898.90,156.20 C1901.80,154.62 1904.40,153.03 1907.60,151.00 C1910.80,148.97 1915.20,145.17 1918.10,144.00 C1921.00,142.83 1923.85,144.00 1925.00,144.00" fill="none" stroke="#246ba0" stroke-width="3.0" stroke-linecap="butt" stroke-linejoin="round"/>
</g>
<line x1="1636.50" y1="72.60" x2="1636.50" y2="81.90" stroke="#222" stroke-width="1.0" stroke-linecap="butt"/>
<line x1="1641.35" y1="72.60" x2="1641.35" y2="89.50" stroke="#222" stroke-width="1.0" stroke-linecap="butt"/>
<line x1="1646.20" y1="72.60" x2="1646.20" y2="87.90" stroke="#222" stroke-width="1.0" stroke-linecap="butt"/>
<line x1="1651.05" y1="72.60" x2="1651.05" y2="84.40" stroke="#222" stroke-width="1.0" stroke-linecap="butt"/>
<line x1="1655.90" y1="72.60" x2="1655.90" y2="83.70" stroke="#222" stroke-width="1.0" stroke-linecap="butt"/>
<line x1="1660.75" y1="72.60" x2="1660.75" y2="82.20" stroke="#222" stroke-width="1.0" stroke-linecap="butt"/>
<line x1="1665.60" y1="72.60" x2="1665.60" y2="81.90" stroke="#222" stroke-width="1.0" stroke-linecap="butt"/>
<line x1="1670.45" y1="72.60" x2="1670.45" y2="78.90" stroke="#222" stroke-width="1.0" stroke-linecap="butt"/>
<line x1="1675.30" y1="72.60" x2="1675.30" y2="77.80" stroke="#222" stroke-width="1.0" stroke-linecap="butt"/>
<line x1="1680.15" y1="72.60" x2="1680.15" y2="78.00" stroke="#222" stroke-width="1.0" stroke-linecap="butt"/>
<line x1="1685.00" y1="72.60" x2="1685.00" y2="78.00" stroke="#222" stroke-width="1.0" stroke-linecap="butt"/>
<line x1="1689.85" y1="72.60" x2="1689.85" y2="75.90" stroke="#222" stroke-width="1.0" stroke-linecap="butt"/>
<line x1="1694.70" y1="72.60" x2="1694.70" y2="75.30" stroke="#222" stroke-width="1.0" stroke-linecap="butt"/>
<line x1="1699.55" y1="72.60" x2="1699.55" y2="75.60" stroke="#222" stroke-width="1.0" stroke-linecap="butt"/>
<line x1="1704.40" y1="72.60" x2="1704.40" y2="75.30" stroke="#222" stroke-width="1.0" stroke-linecap="butt"/>
<line x1="1709.25" y1="72.60" x2="1709.25" y2="75.90" stroke="#222" stroke-width="1.0" stroke-linecap="butt"/>
<line x1="1714.10" y1="72.60" x2="1714.10" y2="74.60" stroke="#222" stroke-width="1.0" stroke-linecap="butt"/>
<line x1="1718.95" y1="72.60" x2="1718.95" y2="74.40" stroke="#222" stroke-width="1.0" stroke-linecap="butt"/>
<line x1="1723.80" y1="72.60" x2="1723.80" y2="74.20" stroke="#222" stroke-width="1.0" stroke-linecap="butt"/>
<line x1="1728.65" y1="72.60" x2="1728.65" y2="74.10" stroke="#222" stroke-width="1.0" stroke-linecap="butt"/>
<line x1="1733.50" y1="72.60" x2="1733.50" y2="74.10" stroke="#222" stroke-width="1.0" stroke-linecap="butt"/>
<line x1="1738.35" y1="72.60" x2="1738.35" y2="74.00" stroke="#222" stroke-width="1.0" stroke-linecap="butt"/>
<line x1="1743.20" y1="72.60" x2="1743.20" y2="73.90" stroke="#222" stroke-width="1.0" stroke-linecap="butt"/>
<rect x="1615.60" y="72.60" width="377.60" height="326.40" rx="0" fill="none" stroke="#231f20" stroke-width="1.8"/>
<line x1="1629.60" y1="399.00" x2="1629.60" y2="407.00" stroke="#231f20" stroke-width="1.5" stroke-linecap="butt"/>
<text transform="translate(1631.60,427.50) scale(1,1.0)" x="-17.44" y="0" font-size="25" fill="#231f20">0.0</text>
<line x1="1699.56" y1="399.00" x2="1699.56" y2="407.00" stroke="#231f20" stroke-width="1.5" stroke-linecap="butt"/>
<text transform="translate(1701.56,427.50) scale(1,1.0)" x="-17.31" y="0" font-size="25" fill="#231f20">0.1</text>
<line x1="1769.52" y1="399.00" x2="1769.52" y2="407.00" stroke="#231f20" stroke-width="1.5" stroke-linecap="butt"/>
<text transform="translate(1771.52,427.50) scale(1,1.0)" x="-17.25" y="0" font-size="25" fill="#231f20">0.2</text>
<line x1="1839.48" y1="399.00" x2="1839.48" y2="407.00" stroke="#231f20" stroke-width="1.5" stroke-linecap="butt"/>
<text transform="translate(1841.48,427.50) scale(1,1.0)" x="-17.38" y="0" font-size="25" fill="#231f20">0.3</text>
<line x1="1909.44" y1="399.00" x2="1909.44" y2="407.00" stroke="#231f20" stroke-width="1.5" stroke-linecap="butt"/>
<text transform="translate(1911.44,427.50) scale(1,1.0)" x="-17.50" y="0" font-size="25" fill="#231f20">0.4</text>
<line x1="1979.40" y1="399.00" x2="1979.40" y2="407.00" stroke="#231f20" stroke-width="1.5" stroke-linecap="butt"/>
<text transform="translate(1981.40,427.50) scale(1,1.0)" x="-17.38" y="0" font-size="25" fill="#231f20">0.5</text>
<line x1="1607.60" y1="387.30" x2="1615.60" y2="387.30" stroke="#231f20" stroke-width="1.5" stroke-linecap="butt"/>
<text transform="translate(1600.90,382.30) rotate(-90) scale(1,1.0)" x="-17.44" y="0" font-size="25" fill="#231f20">0.0</text>
<line x1="1607.60" y1="326.80" x2="1615.60" y2="326.80" stroke="#231f20" stroke-width="1.5" stroke-linecap="butt"/>
<text transform="translate(1600.90,321.80) rotate(-90) scale(1,1.0)" x="-17.31" y="0" font-size="25" fill="#231f20">0.1</text>
<line x1="1607.60" y1="266.30" x2="1615.60" y2="266.30" stroke="#231f20" stroke-width="1.5" stroke-linecap="butt"/>
<text transform="translate(1600.90,261.30) rotate(-90) scale(1,1.0)" x="-17.25" y="0" font-size="25" fill="#231f20">0.2</text>
<line x1="1607.60" y1="205.80" x2="1615.60" y2="205.80" stroke="#231f20" stroke-width="1.5" stroke-linecap="butt"/>
<text transform="translate(1600.90,200.80) rotate(-90) scale(1,1.0)" x="-17.38" y="0" font-size="25" fill="#231f20">0.3</text>
<line x1="1607.60" y1="145.30" x2="1615.60" y2="145.30" stroke="#231f20" stroke-width="1.5" stroke-linecap="butt"/>
<text transform="translate(1600.90,140.30) rotate(-90) scale(1,1.0)" x="-17.50" y="0" font-size="25" fill="#231f20">0.4</text>
<line x1="1607.60" y1="84.80" x2="1615.60" y2="84.80" stroke="#231f20" stroke-width="1.5" stroke-linecap="butt"/>
<text transform="translate(1600.90,79.80) rotate(-90) scale(1,1.0)" x="-17.38" y="0" font-size="25" fill="#231f20">0.5</text>
<text transform="translate(1832.10,65.50) scale(1,1.0)" x="-95.40" y="0" font-size="27.2" fill="#231f20">BCDG Mutation</text>
<text transform="translate(1679.10,456.10) scale(1,1.0)" x="-2.24" y="0" font-size="27.95" fill="#231f20">Predicted Probability</text>
<text transform="translate(1575.80,233.50) rotate(-90) scale(1,1.0)" x="-108.15" y="0" font-size="28" fill="#231f20">Actual Probability</text>
<text transform="translate(1821.00,329.40) scale(1,1.0)" x="-0.41" y="0" font-size="20.3" fill="#231f20">Training</text>
<text transform="translate(1901.00,329.40) scale(1,1.0)" x="-0.10" y="0" font-size="20.3" fill="#231f20">Validation</text>
<text transform="translate(1817.60,348.10) scale(1,1.0)" x="-82.22" y="0" font-size="20.3" fill="#231f20">Apparent</text>
<text transform="translate(1817.60,366.80) scale(1,1.0)" x="-134.59" y="0" font-size="20.3" fill="#231f20">Bias−corrected</text>
<text transform="translate(1817.60,385.50) scale(1,1.0)" x="-42.63" y="0" font-size="20.3" fill="#231f20">Ideal</text>
<line x1="1837.00" y1="341.80" x2="1885.00" y2="341.80" stroke="#dc4530" stroke-width="2.1" stroke-linecap="round" stroke-dasharray="0.1,4.25"/>
<line x1="1917.40" y1="341.80" x2="1965.40" y2="341.80" stroke="#62b6c4" stroke-width="1.9" stroke-linecap="round" stroke-dasharray="0.1,4.25"/>
<line x1="1838.00" y1="360.30" x2="1887.00" y2="360.30" stroke="#a53a2e" stroke-width="2.1" stroke-linecap="round"/>
<line x1="1918.40" y1="360.30" x2="1967.40" y2="360.30" stroke="#246ba0" stroke-width="2.1" stroke-linecap="round"/>
<line x1="1878.30" y1="378.60" x2="1928.00" y2="378.60" stroke="#231f20" stroke-width="1.4" stroke-linecap="round" stroke-dasharray="3.5,4.45"/>
<text transform="translate(1520.50,36.50) scale(1,1.0)" x="-1.68" y="0" font-size="42" font-weight="bold" fill="#231f20">c</text>
<clipPath id="ce"><rect x="1616.2" y="520.6" width="378.20000000000005" height="327.29999999999995"/></clipPath>
<g clip-path="url(#ce)">
<line x1="1542.10" y1="911.58" x2="2336.80" y2="229.56" stroke="#231f20" stroke-width="1.35" stroke-linecap="round" stroke-dasharray="3.5,4.45"/>
<path d="M1631.10,835.00 C1633.38,833.42 1641.23,828.30 1644.80,825.50 C1648.37,822.70 1649.95,820.78 1652.50,818.20 C1655.05,815.62 1657.05,812.92 1660.10,810.00 C1663.15,807.08 1667.82,803.87 1670.80,800.70 C1673.78,797.53 1675.47,794.45 1678.00,791.00 C1680.53,787.55 1683.40,783.58 1686.00,780.00 C1688.60,776.42 1691.05,772.58 1693.60,769.50 C1696.15,766.42 1698.75,763.58 1701.30,761.50 C1703.85,759.42 1706.37,758.17 1708.90,757.00 C1711.43,755.83 1713.97,755.48 1716.50,754.50 C1719.03,753.52 1721.55,752.30 1724.10,751.10 C1726.65,749.90 1729.00,748.95 1731.80,747.30 C1734.60,745.65 1737.03,743.58 1740.90,741.20 C1744.77,738.82 1750.68,734.87 1755.00,733.00 C1759.32,731.13 1762.55,731.32 1766.80,730.00 C1771.05,728.68 1775.93,727.55 1780.50,725.10 C1785.07,722.65 1789.30,718.90 1794.20,715.30 C1799.10,711.70 1804.02,707.42 1809.90,703.50 C1815.78,699.58 1822.97,696.05 1829.50,691.80 C1836.03,687.55 1842.57,682.90 1849.10,678.00 C1855.63,673.10 1862.17,667.62 1868.70,662.40 C1875.23,657.18 1881.75,652.27 1888.30,646.70 C1894.85,641.13 1901.47,635.53 1908.00,629.00 C1914.53,622.47 1921.63,613.70 1927.50,607.50 C1933.37,601.30 1938.28,596.38 1943.20,591.80 C1948.12,587.22 1953.10,583.67 1957.00,580.00 C1960.90,576.33 1965.00,571.50 1966.60,569.80" fill="none" stroke="#dc4530" stroke-width="2.3" stroke-linecap="round" stroke-linejoin="round" stroke-dasharray="0.1,4.25"/>
<path d="M1631.10,832.70 C1632.63,832.42 1637.75,831.70 1640.30,831.00 C1642.85,830.30 1644.37,829.75 1646.40,828.50 C1648.43,827.25 1650.22,825.50 1652.50,823.50 C1654.78,821.50 1657.57,819.08 1660.10,816.50 C1662.63,813.92 1665.17,811.00 1667.70,808.00 C1670.23,805.00 1672.75,801.75 1675.30,798.50 C1677.85,795.25 1680.70,791.25 1683.00,788.50 C1685.30,785.75 1687.33,783.53 1689.10,782.00 C1690.87,780.47 1691.07,780.52 1693.60,779.30 C1696.13,778.08 1700.48,778.25 1704.30,774.70 C1708.12,771.15 1712.43,762.82 1716.50,758.00 C1720.57,753.18 1724.63,749.37 1728.70,745.80 C1732.77,742.23 1737.35,739.40 1740.90,736.60 C1744.45,733.80 1747.48,731.35 1750.00,729.00 C1752.52,726.65 1753.53,726.08 1756.00,722.50 C1758.47,718.92 1761.70,712.95 1764.80,707.50 C1767.90,702.05 1771.33,695.68 1774.60,689.80 C1777.87,683.92 1781.13,677.58 1784.40,672.20 C1787.67,666.82 1790.93,661.75 1794.20,657.50 C1797.47,653.25 1800.73,649.65 1804.00,646.70 C1807.27,643.75 1809.88,641.77 1813.80,639.80 C1817.72,637.83 1822.60,636.05 1827.50,634.90 C1832.40,633.75 1837.32,633.30 1843.20,632.90 C1849.08,632.50 1856.25,632.33 1862.80,632.50 C1869.35,632.67 1875.95,633.40 1882.50,633.90 C1889.05,634.40 1895.57,635.00 1902.10,635.50 C1908.63,636.00 1916.48,636.67 1921.70,636.90 C1926.92,637.13 1931.45,636.90 1933.40,636.90" fill="none" stroke="#62b6c4" stroke-width="2.2" stroke-linecap="round" stroke-linejoin="round" stroke-dasharray="0.1,4.25"/>
<path d="M1631.10,834.20 C1632.12,833.70 1634.92,832.85 1637.20,831.20 C1639.48,829.55 1642.25,826.72 1644.80,824.30 C1647.35,821.88 1649.95,819.25 1652.50,816.70 C1655.05,814.15 1657.32,811.67 1660.10,809.00 C1662.88,806.33 1666.40,803.62 1669.20,800.70 C1672.00,797.78 1674.10,795.07 1676.90,791.50 C1679.70,787.93 1683.22,783.12 1686.00,779.30 C1688.78,775.48 1691.05,771.65 1693.60,768.60 C1696.15,765.55 1698.75,762.90 1701.30,761.00 C1703.85,759.10 1706.37,758.08 1708.90,757.20 C1711.43,756.32 1713.97,756.33 1716.50,755.70 C1719.03,755.07 1721.55,754.30 1724.10,753.40 C1726.65,752.50 1729.00,751.57 1731.80,750.30 C1734.60,749.03 1737.85,747.32 1740.90,745.80 C1743.95,744.28 1747.05,742.48 1750.10,741.20 C1753.15,739.92 1756.42,738.75 1759.20,738.10 C1761.98,737.45 1763.25,738.00 1766.80,737.30 C1770.35,736.60 1775.93,735.93 1780.50,733.90 C1785.07,731.87 1789.30,728.53 1794.20,725.10 C1799.10,721.67 1804.02,717.07 1809.90,713.30 C1815.78,709.53 1822.97,706.42 1829.50,702.50 C1836.03,698.58 1842.57,694.20 1849.10,689.80 C1855.63,685.40 1862.17,680.52 1868.70,676.10 C1875.23,671.68 1881.75,667.72 1888.30,663.30 C1894.85,658.88 1901.47,654.98 1908.00,649.60 C1914.53,644.22 1920.97,637.37 1927.50,631.00 C1934.03,624.63 1940.65,617.93 1947.20,611.40 C1953.75,604.87 1963.53,595.07 1966.80,591.80" fill="none" stroke="#a53a2e" stroke-width="2.6" stroke-linecap="butt" stroke-linejoin="round"/>
<path d="M1631.10,830.40 C1631.62,830.65 1632.67,831.40 1634.20,831.90 C1635.73,832.40 1638.27,833.32 1640.30,833.40 C1642.33,833.48 1644.37,833.15 1646.40,832.40 C1648.43,831.65 1650.22,830.63 1652.50,828.90 C1654.78,827.17 1657.57,824.55 1660.10,822.00 C1662.63,819.45 1665.17,816.65 1667.70,813.60 C1670.23,810.55 1672.75,807.13 1675.30,803.70 C1677.85,800.27 1680.70,796.18 1683.00,793.00 C1685.30,789.82 1687.33,787.02 1689.10,784.60 C1690.87,782.18 1691.83,779.88 1693.60,778.50 C1695.37,777.12 1697.67,777.32 1699.70,776.30 C1701.73,775.28 1703.77,774.43 1705.80,772.40 C1707.83,770.37 1709.87,767.02 1711.90,764.10 C1713.93,761.18 1715.97,757.83 1718.00,754.90 C1720.03,751.97 1721.80,749.03 1724.10,746.50 C1726.40,743.97 1729.00,741.98 1731.80,739.70 C1734.60,737.42 1738.12,735.10 1740.90,732.80 C1743.68,730.50 1745.95,728.82 1748.50,725.90 C1751.05,722.98 1753.48,719.35 1756.20,715.30 C1758.92,711.25 1761.73,706.67 1764.80,701.60 C1767.87,696.53 1771.33,690.47 1774.60,684.90 C1777.87,679.33 1781.13,673.43 1784.40,668.20 C1787.67,662.97 1790.93,657.90 1794.20,653.50 C1797.47,649.10 1800.73,645.23 1804.00,641.80 C1807.27,638.37 1810.53,635.35 1813.80,632.90 C1817.07,630.45 1819.67,628.40 1823.60,627.10 C1827.53,625.80 1832.50,625.60 1837.40,625.10 C1842.30,624.60 1847.13,624.27 1853.00,624.10 C1858.87,623.93 1866.38,623.67 1872.60,624.10 C1878.82,624.53 1886.37,625.88 1890.30,626.70 C1894.23,627.52 1893.25,628.28 1896.20,629.00 C1899.15,629.72 1905.07,630.18 1908.00,631.00 C1910.93,631.82 1911.52,632.60 1913.80,633.90 C1916.08,635.20 1919.42,637.82 1921.70,638.80 C1923.98,639.78 1925.38,639.53 1927.50,639.80 C1929.62,640.07 1933.25,640.30 1934.40,640.40" fill="none" stroke="#246ba0" stroke-width="3.0" stroke-linecap="butt" stroke-linejoin="round"/>
</g>
<line x1="1635.40" y1="520.60" x2="1635.40" y2="526.60" stroke="#555" stroke-width="1.0" stroke-linecap="butt"/>
<line x1="1639.49" y1="520.60" x2="1639.49" y2="536.90" stroke="#555" stroke-width="1.0" stroke-linecap="butt"/>
<line x1="1643.58" y1="520.60" x2="1643.58" y2="535.30" stroke="#555" stroke-width="1.0" stroke-linecap="butt"/>
<line x1="1647.67" y1="520.60" x2="1647.67" y2="533.10" stroke="#555" stroke-width="1.0" stroke-linecap="butt"/>
<line x1="1651.76" y1="520.60" x2="1651.76" y2="529.30" stroke="#555" stroke-width="1.0" stroke-linecap="butt"/>
<line x1="1655.85" y1="520.60" x2="1655.85" y2="526.60" stroke="#555" stroke-width="1.0" stroke-linecap="butt"/>
<line x1="1659.94" y1="520.60" x2="1659.94" y2="525.50" stroke="#555" stroke-width="1.0" stroke-linecap="butt"/>
<line x1="1664.03" y1="520.60" x2="1664.03" y2="524.40" stroke="#555" stroke-width="1.0" stroke-linecap="butt"/>
<line x1="1668.12" y1="520.60" x2="1668.12" y2="523.60" stroke="#555" stroke-width="1.0" stroke-linecap="butt"/>
<line x1="1672.21" y1="520.60" x2="1672.21" y2="523.30" stroke="#555" stroke-width="1.0" stroke-linecap="butt"/>
<line x1="1676.30" y1="520.60" x2="1676.30" y2="522.80" stroke="#555" stroke-width="1.0" stroke-linecap="butt"/>
<line x1="1680.39" y1="520.60" x2="1680.39" y2="522.50" stroke="#555" stroke-width="1.0" stroke-linecap="butt"/>
<line x1="1684.48" y1="520.60" x2="1684.48" y2="522.30" stroke="#555" stroke-width="1.0" stroke-linecap="butt"/>
<line x1="1688.57" y1="520.60" x2="1688.57" y2="522.10" stroke="#555" stroke-width="1.0" stroke-linecap="butt"/>
<line x1="1692.66" y1="520.60" x2="1692.66" y2="521.90" stroke="#555" stroke-width="1.0" stroke-linecap="butt"/>
<line x1="1696.75" y1="520.60" x2="1696.75" y2="521.80" stroke="#555" stroke-width="1.0" stroke-linecap="butt"/>
<line x1="1700.84" y1="520.60" x2="1700.84" y2="521.70" stroke="#555" stroke-width="1.0" stroke-linecap="butt"/>
<line x1="1704.93" y1="520.60" x2="1704.93" y2="521.60" stroke="#555" stroke-width="1.0" stroke-linecap="butt"/>
<line x1="1709.02" y1="520.60" x2="1709.02" y2="521.50" stroke="#555" stroke-width="1.0" stroke-linecap="butt"/>
<line x1="1713.11" y1="520.60" x2="1713.11" y2="521.40" stroke="#555" stroke-width="1.0" stroke-linecap="butt"/>
<line x1="1717.20" y1="520.60" x2="1717.20" y2="521.40" stroke="#555" stroke-width="1.0" stroke-linecap="butt"/>
<line x1="1721.29" y1="520.60" x2="1721.29" y2="521.30" stroke="#555" stroke-width="1.0" stroke-linecap="butt"/>
<line x1="1725.38" y1="520.60" x2="1725.38" y2="521.30" stroke="#555" stroke-width="1.0" stroke-linecap="butt"/>
<line x1="1729.47" y1="520.60" x2="1729.47" y2="521.20" stroke="#555" stroke-width="1.0" stroke-linecap="butt"/>
<line x1="1733.56" y1="520.60" x2="1733.56" y2="521.20" stroke="#555" stroke-width="1.0" stroke-linecap="butt"/>
<rect x="1616.20" y="520.60" width="378.20" height="327.30" rx="0" fill="none" stroke="#231f20" stroke-width="1.8"/>
<line x1="1630.40" y1="847.90" x2="1630.40" y2="855.90" stroke="#777" stroke-width="1.5" stroke-linecap="butt"/>
<text transform="translate(1631.70,880.60) scale(1,1.0)" x="-17.44" y="0" font-size="25" fill="#231f20">0.0</text>
<line x1="1719.20" y1="847.90" x2="1719.20" y2="855.90" stroke="#777" stroke-width="1.5" stroke-linecap="butt"/>
<text transform="translate(1720.50,880.60) scale(1,1.0)" x="-17.31" y="0" font-size="25" fill="#231f20">0.1</text>
<line x1="1807.60" y1="847.90" x2="1807.60" y2="855.90" stroke="#777" stroke-width="1.5" stroke-linecap="butt"/>
<text transform="translate(1808.90,880.60) scale(1,1.0)" x="-17.25" y="0" font-size="25" fill="#231f20">0.2</text>
<line x1="1896.20" y1="847.90" x2="1896.20" y2="855.90" stroke="#777" stroke-width="1.5" stroke-linecap="butt"/>
<text transform="translate(1897.50,880.60) scale(1,1.0)" x="-17.38" y="0" font-size="25" fill="#231f20">0.3</text>
<line x1="1981.30" y1="847.90" x2="1981.30" y2="857.70" stroke="#777" stroke-width="1.5" stroke-linecap="butt"/>
<text transform="translate(1982.60,881.80) scale(1,1.0)" x="-17.50" y="0" font-size="25" fill="#231f20">0.4</text>
<line x1="1608.20" y1="835.80" x2="1616.20" y2="835.80" stroke="#777" stroke-width="1.5" stroke-linecap="butt"/>
<text transform="translate(1604.30,834.80) rotate(-90) scale(1,1.0)" x="-17.44" y="0" font-size="25" fill="#231f20">0.0</text>
<line x1="1608.20" y1="759.50" x2="1616.20" y2="759.50" stroke="#777" stroke-width="1.5" stroke-linecap="butt"/>
<text transform="translate(1604.30,758.50) rotate(-90) scale(1,1.0)" x="-17.31" y="0" font-size="25" fill="#231f20">0.1</text>
<line x1="1608.20" y1="683.10" x2="1616.20" y2="683.10" stroke="#777" stroke-width="1.5" stroke-linecap="butt"/>
<text transform="translate(1604.30,682.10) rotate(-90) scale(1,1.0)" x="-17.25" y="0" font-size="25" fill="#231f20">0.2</text>
<line x1="1603.70" y1="609.50" x2="1611.70" y2="609.50" stroke="#777" stroke-width="1.5" stroke-linecap="butt"/>
<text transform="translate(1599.80,608.50) rotate(-90) scale(1,1.0)" x="-17.38" y="0" font-size="25" fill="#231f20">0.3</text>
<line x1="1608.20" y1="532.70" x2="1616.20" y2="532.70" stroke="#777" stroke-width="1.5" stroke-linecap="butt"/>
<text transform="translate(1604.30,531.70) rotate(-90) scale(1,1.0)" x="-17.50" y="0" font-size="25" fill="#231f20">0.4</text>
<text transform="translate(1807.20,500.00) scale(1,1.0)" x="-115.06" y="0" font-size="27.2" fill="#231f20">Two-hit inactivation</text>
<text transform="translate(1683.90,909.20) scale(1,1.0)" x="-2.24" y="0" font-size="27.95" fill="#231f20">Predicted Probability</text>
<text transform="translate(1575.80,682.90) rotate(-90) scale(1,1.0)" x="-108.15" y="0" font-size="28" fill="#231f20">Actual Probability</text>
<text transform="translate(1821.00,777.60) scale(1,1.0)" x="-0.41" y="0" font-size="20.3" fill="#231f20">Training</text>
<text transform="translate(1901.00,777.60) scale(1,1.0)" x="-0.10" y="0" font-size="20.3" fill="#231f20">Validation</text>
<text transform="translate(1817.60,796.40) scale(1,1.0)" x="-82.22" y="0" font-size="20.3" fill="#231f20">Apparent</text>
<text transform="translate(1817.60,815.20) scale(1,1.0)" x="-134.59" y="0" font-size="20.3" fill="#231f20">Bias−corrected</text>
<text transform="translate(1817.60,834.00) scale(1,1.0)" x="-42.63" y="0" font-size="20.3" fill="#231f20">Ideal</text>
<line x1="1834.00" y1="790.10" x2="1882.00" y2="790.10" stroke="#dc4530" stroke-width="2.1" stroke-linecap="round" stroke-dasharray="0.1,4.25"/>
<line x1="1917.40" y1="790.10" x2="1967.00" y2="790.10" stroke="#62b6c4" stroke-width="1.9" stroke-linecap="round" stroke-dasharray="0.1,4.25"/>
<line x1="1835.00" y1="808.70" x2="1884.00" y2="808.70" stroke="#a53a2e" stroke-width="2.1" stroke-linecap="round"/>
<line x1="1918.40" y1="808.70" x2="1969.00" y2="808.70" stroke="#246ba0" stroke-width="2.1" stroke-linecap="round"/>
<line x1="1878.30" y1="827.10" x2="1928.00" y2="827.10" stroke="#231f20" stroke-width="1.4" stroke-linecap="round" stroke-dasharray="3.5,4.45"/>
<text transform="translate(1520.20,492.20) scale(1,1.0)" x="-1.68" y="0" font-size="42" font-weight="bold" fill="#231f20">e</text>
<rect x="1571.00" y="895.30" width="1.10" height="1.60" rx="0" fill="#666"/>
<rect x="1594.90" y="889.00" width="1.10" height="2.20" rx="0" fill="#777"/>
</svg>
</body></html>
